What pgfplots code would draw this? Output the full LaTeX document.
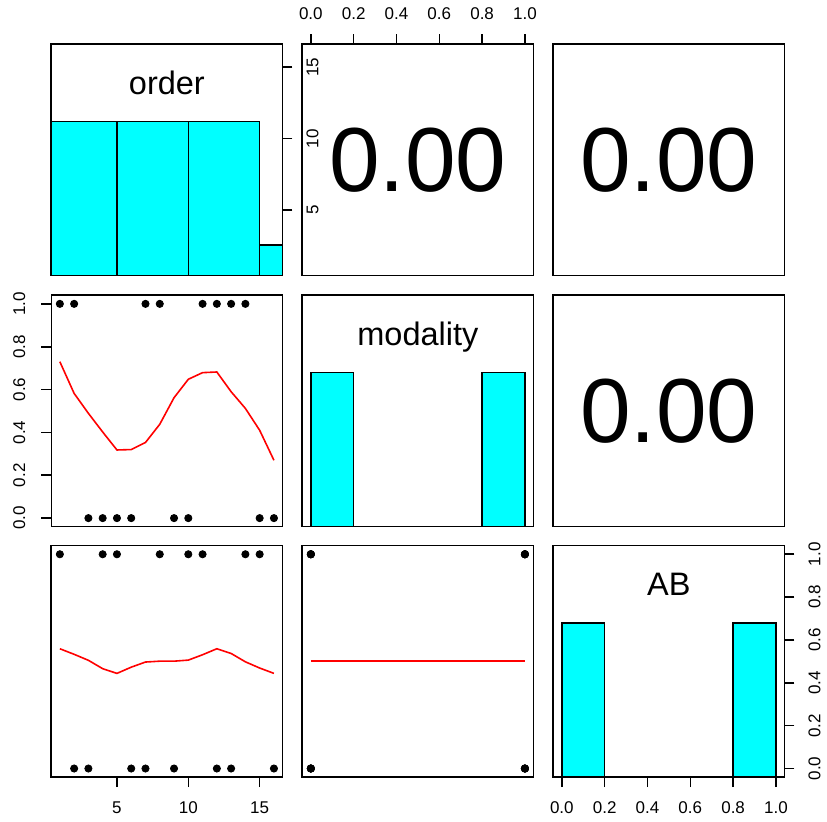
\documentclass[border=0pt]{standalone}
\usepackage{pgfplots}
\usepackage{pgfplotstable}
\pgfplotsset{compat=1.18}
\usepackage{fontspec}
\setmainfont{Liberation Sans}

\definecolor{histcyan}{RGB}{0,255,255}
\definecolor{fitred}{RGB}{255,0,0}

\newcommand{\ticksize}{\fontsize{8.5}{9}\selectfont}
\newcommand{\labelsize}{\fontsize{16.25}{18}\selectfont}
\newcommand{\corrsize}{\fontsize{45.5}{50}\selectfont}

% raw observations
\pgfplotstableread{
order modality AB
1 1 1
2 1 0
3 0 0
4 0 1
5 0 1
6 0 0
7 1 0
8 1 1
9 0 0
10 0 1
11 1 1
12 1 0
13 1 0
14 1 1
15 0 1
16 0 0
}\rawdata

% smoothed fits against order
\pgfplotstableread{
order modS ABS
1 0.730 0.559
2 0.582 0.533
3 0.489 0.505
4 0.402 0.466
5 0.318 0.444
6 0.320 0.473
7 0.353 0.497
8 0.438 0.501
9 0.562 0.501
10 0.648 0.506
11 0.679 0.531
12 0.682 0.559
13 0.590 0.537
14 0.512 0.498
15 0.410 0.469
16 0.270 0.444
}\smoothdata

% smoothed fit of AB against modality
\pgfplotstableread{
modality ABS
0 0.5
1 0.5
}\smoothbin

% histogram counts (left edges, last row closes the interval)
\pgfplotstableread{
x n
0 5
5 5
10 5
15 1
20 1
}\historder

\pgfplotstableread{
x n
0 8
0.2 0
0.4 0
0.6 0
0.8 8
1.0 8
}\histbin

\pgfplotsset{
  panel/.style={
    scale only axis, width=115.6pt, height=115.7pt, anchor=north west,
    axis line style={line width=0.8pt},
    every tick/.style={line width=0.8pt, black},
    tick align=outside, major tick length=5pt,
    xtick=\empty, ytick=\empty,
    ticklabel style={font=\ticksize},
    /pgf/number format/assume math mode=true,
  },
  binscale/.style={xmin=-0.04, xmax=1.04},
  binscaley/.style={ymin=-0.04, ymax=1.04},
  orderscale/.style={xmin=0.4, xmax=16.6},
  dots/.style={only marks, mark=*, mark size=1.8pt, mark options={fill=black, draw=black}},
  fitline/.style={draw=red, line width=0.8pt, mark=none},
  bars/.style={ybar interval, fill=histcyan, draw=black, line width=0.8pt},
  unitticks/.style={#1tick={0,0.2,0.4,0.6,0.8,1.0}, #1ticklabels={0.0,0.2,0.4,0.6,0.8,1.0}},
  labels bottom/.style={xtick pos=lower, xticklabel pos=lower,
    xticklabel style={anchor=center, yshift=-10.5pt}},
  labels top/.style={xtick pos=upper, xticklabel pos=upper,
    xticklabel style={anchor=center, yshift=10.5pt}},
  labels left/.style={ytick pos=left, yticklabel pos=left,
    yticklabel style={xshift=-11pt, rotate=90, anchor=center}},
  labels right/.style={ytick pos=right, yticklabel pos=right,
    yticklabel style={xshift=10pt, rotate=90, anchor=center}},
}

\begin{document}
\begin{tikzpicture}
\path[use as bounding box] (0,0) rectangle (413.5pt,-411pt);

% ---- row 1 ----
\begin{axis}[panel, at={(25.65pt,-22.15pt)}, orderscale, ymin=0, ymax=7.5]
  \addplot[bars] table[x=x, y=n] {\historder};
  \node[font=\labelsize, anchor=base] at (rel axis cs:0.5,0.784) {order};
\end{axis}
\begin{axis}[panel, at={(25.65pt,-22.15pt)}, orderscale, ymin=0.4, ymax=16.6,
  ytick={5,10,15}, yticklabels={5,10,15}, labels right]
  \addplot[draw=none] coordinates {(1,1)};
\end{axis}

\begin{axis}[panel, at={(151.15pt,-22.15pt)}, binscale, ymin=0, ymax=1,
  unitticks=x, labels top]
  \node[font=\corrsize] at (rel axis cs:0.5,0.5) {0.00};
\end{axis}

\begin{axis}[panel, at={(276.65pt,-22.15pt)}, xmin=0, xmax=1, ymin=0, ymax=1]
  \node[font=\corrsize] at (rel axis cs:0.5,0.5) {0.00};
\end{axis}

% ---- row 2 ----
\begin{axis}[panel, at={(25.65pt,-147.65pt)}, orderscale, binscaley,
  unitticks=y, labels left]
  \addplot[fitline] table[x=order, y=modS] {\smoothdata};
  \addplot[dots] table[x=order, y=modality] {\rawdata};
\end{axis}

\begin{axis}[panel, at={(151.15pt,-147.65pt)}, binscale, ymin=0, ymax=12]
  \addplot[bars] table[x=x, y=n] {\histbin};
  \node[font=\labelsize, anchor=base] at (rel axis cs:0.5,0.784) {modality};
\end{axis}

\begin{axis}[panel, at={(276.65pt,-147.65pt)}, xmin=0, xmax=1, ymin=0, ymax=1]
  \node[font=\corrsize] at (rel axis cs:0.5,0.5) {0.00};
\end{axis}

% ---- row 3 ----
\begin{axis}[panel, at={(25.65pt,-272.85pt)}, orderscale, binscaley,
  xtick={5,10,15}, xticklabels={5,10,15}, labels bottom]
  \addplot[fitline] table[x=order, y=ABS] {\smoothdata};
  \addplot[dots] table[x=order, y=AB] {\rawdata};
\end{axis}

\begin{axis}[panel, at={(151.15pt,-272.85pt)}, binscale, binscaley]
  \addplot[fitline, line width=1pt] table[x=modality, y=ABS] {\smoothbin};
  \addplot[dots] table[x=modality, y=AB] {\rawdata};
\end{axis}

\begin{axis}[panel, at={(276.65pt,-272.85pt)}, binscale, ymin=0, ymax=12,
  unitticks=x, labels bottom]
  \addplot[bars] table[x=x, y=n] {\histbin};
  \node[font=\labelsize, anchor=base] at (rel axis cs:0.5,0.784) {AB};
\end{axis}
\begin{axis}[panel, at={(276.65pt,-272.85pt)}, binscale, binscaley,
  unitticks=y, labels right]
  \addplot[draw=none] coordinates {(0.5,0.5)};
\end{axis}
\end{tikzpicture}
\end{document}
